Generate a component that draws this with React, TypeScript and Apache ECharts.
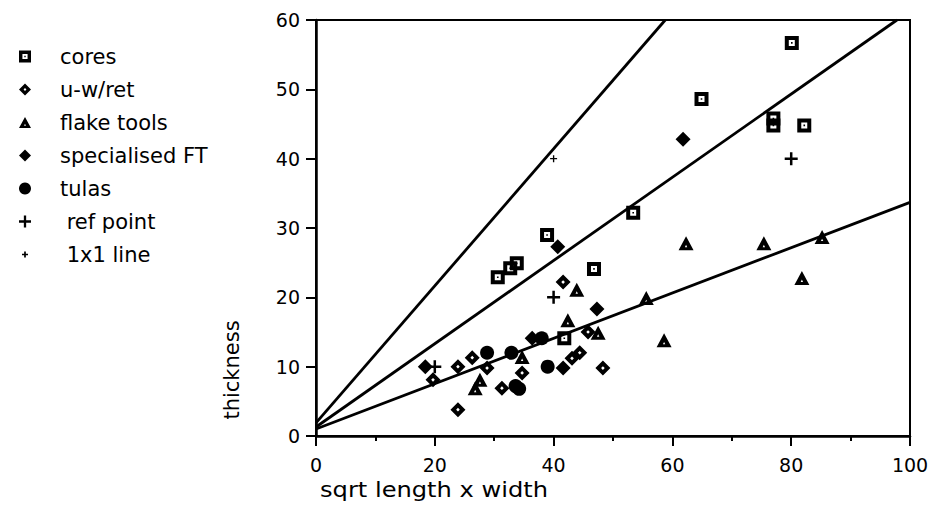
import React, { useEffect, useRef } from "react";
import * as echarts from "echarts";

const cores = [[30.6,22.9],[32.7,24.2],[33.8,24.9],[38.9,29.0],[41.8,14.1],[46.8,24.1],[53.4,32.2],[64.9,48.6],[77.0,45.8],[77.0,44.8],[80.1,56.7],[82.2,44.8]];
const uwret = [[19.7,8.1],[23.9,3.8],[23.9,10.0],[26.3,11.3],[28.8,9.8],[31.3,6.9],[34.7,9.1],[41.6,22.2],[43.1,11.2],[44.4,12.0],[45.8,15.0],[48.3,9.8]];
const flakeTools = [[26.8,6.9],[27.6,8.1],[34.7,11.4],[42.4,16.7],[43.9,21.1],[47.5,14.9],[55.6,19.9],[58.6,13.8],[62.3,27.8],[75.4,27.8],[81.8,22.8],[85.2,28.7]];
const specialisedFT = [[18.4,10.0],[36.4,14.1],[41.6,9.8],[40.7,27.3],[47.3,18.3],[61.8,42.8]];
const tulas = [[28.8,12.0],[32.9,12.0],[38.0,14.1],[39.0,10.0],[33.6,7.2],[34.2,6.8]];
const refPoints = [[20,10],[40,20],[80,40]];
const oneByOne = [[40,40]];
const lineA = [[0,1.9],[58.8,60]];
const lineB = [[0,1.3],[97.8,60]];
const lineC = [[0,1.0],[100,33.7]];
const xTicks = [0,20,40,60,80,100];
const yTicks = [0,10,20,30,40,50,60];
const legendNames = ["cores", "u-w/ret", "flake tools", "specialised FT", "tulas", " ref point", " 1x1 line"];

const FONT = "'DejaVu Sans', Verdana, sans-serif";
const SQ = "path://M0 0H14V14H0ZM4 4V10H10V4ZM6.2 6.2H7.8V7.8H6.2Z";
const HDIA = "path://M7 0L14 7L7 14L0 7ZM7 5.3L5.3 7L7 8.7L8.7 7Z";
const TRI = "path://M7 0L14 13H0ZM7 8L5.9 10.2H8.1Z";
const PLUS = "path://M5.25 0H7.75V5.25H13V7.75H7.75V13H5.25V7.75H0V5.25H5.25Z";
const SMALLPLUS = "path://M0 0M14 14M6 3.5H8V6H10.5V8H8V10.5H6V8H3.5V6H6Z";

export default function App() {
  const ref = useRef<HTMLDivElement>(null);
  useEffect(() => {
    const chart = echarts.init(ref.current!, undefined, { renderer: "svg" });
    const scat = (name: string, data: number[][], symbol: string, size: number | number[]) => ({
      name, type: "scatter", data, symbol, symbolSize: size,
      itemStyle: { color: "#000", opacity: 1 }, z: 3,
    });
    const ln = (data: number[][]) => ({
      type: "line", data, symbol: "none", silent: true,
      lineStyle: { color: "#000", width: 2.8 }, z: 2,
    });
    chart.setOption({
      animation: false,
      backgroundColor: "#fff",
      textStyle: { fontFamily: FONT },
      grid: { left: 316, right: 33, top: 20, bottom: 86, show: true, borderColor: "#000", borderWidth: 2 },
      xAxis: {
        type: "value", min: 0, max: 100, interval: 20,
        axisLine: { lineStyle: { color: "#000", width: 2.5 } },
        axisTick: { length: 10, lineStyle: { color: "#000", width: 2 } },
        minorTick: { show: true, splitNumber: 2, length: 5, lineStyle: { color: "#000", width: 2 } },
        splitLine: { show: false },
        axisLabel: {
          color: "#000", fontSize: 19, margin: 19, fontFamily: FONT,
          formatter: (v: number) => xTicks.includes(v) ? String(v) : "",
        },
      },
      yAxis: {
        type: "value", min: 0, max: 60, interval: 10,
        axisLine: { lineStyle: { color: "#000", width: 2.5 } },
        axisTick: { length: 10, lineStyle: { color: "#000", width: 2 } },
        splitLine: { show: false },
        axisLabel: {
          color: "#000", fontSize: 19, margin: 16, fontFamily: FONT,
          formatter: (v: number) => yTicks.includes(v) ? String(v) : "",
        },
      },
      legend: {
        orient: "vertical", left: 14, top: 41, itemWidth: 12, itemHeight: 12, itemGap: 12,
        data: legendNames.map((n) => n === " 1x1 line" ? { name: n, icon: SMALLPLUS } : { name: n }),
        textStyle: { fontSize: 21, color: "#000", fontFamily: FONT, padding: [0, 0, 0, 24] },
        selectedMode: false,
      },
      series: [
        ln(lineA), ln(lineB), ln(lineC),
        scat(legendNames[0], cores, SQ, 14),
        scat(legendNames[1], uwret, HDIA, 15),
        scat(legendNames[2], flakeTools, TRI, [15, 14]),
        scat(legendNames[3], specialisedFT, "diamond", 15),
        scat(legendNames[4], tulas, "circle", 14),
        scat(legendNames[5], refPoints, PLUS, 13),
        scat(legendNames[6], oneByOne, PLUS, 7),
      ],
      graphic: [
        { type: "text", x: 232, y: 370, rotation: Math.PI / 2,
          style: { text: "thickness", font: `21px ${FONT}`, fill: "#000", textAlign: "center", textVerticalAlign: "middle", align: "center", verticalAlign: "middle" } },
        { type: "text", x: 320, y: 490, scaleX: 1.15,
          style: { text: "sqrt length x width", font: `21px ${FONT}`, fill: "#000", textAlign: "left", textVerticalAlign: "middle", align: "left", verticalAlign: "middle" } },
      ],
    });
    return () => chart.dispose();
  }, []);
  return <div ref={ref} style={{ width: 943, height: 522, position: "absolute", left: 0, top: 0 }} />;
}
